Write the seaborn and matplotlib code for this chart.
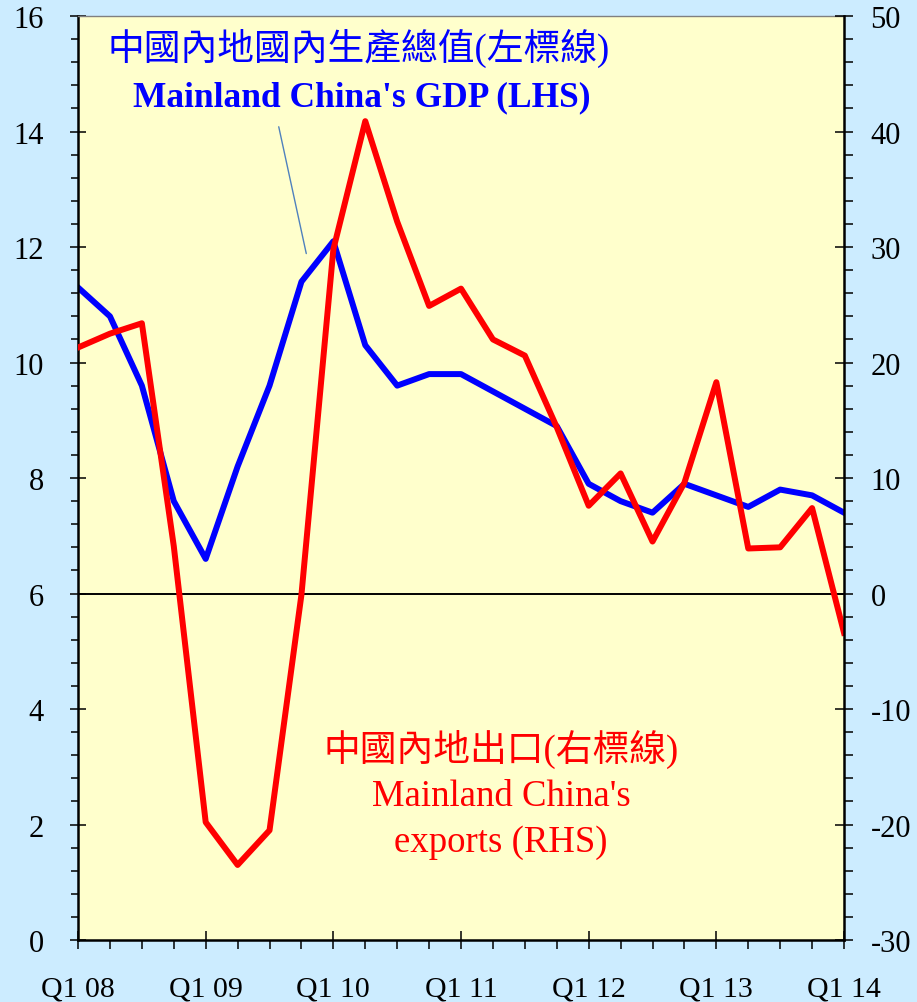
import numpy as np
import pandas as pd
import matplotlib
matplotlib.use("Agg")
import matplotlib.pyplot as plt
import seaborn as sns
from matplotlib.ticker import MultipleLocator

# quarterly data, Q1 08 .. Q1 14
quarters = ["Q1 08", "Q2 08", "Q3 08", "Q4 08",
            "Q1 09", "Q2 09", "Q3 09", "Q4 09",
            "Q1 10", "Q2 10", "Q3 10", "Q4 10",
            "Q1 11", "Q2 11", "Q3 11", "Q4 11",
            "Q1 12", "Q2 12", "Q3 12", "Q4 12",
            "Q1 13", "Q2 13", "Q3 13", "Q4 13",
            "Q1 14"]
gdp = [11.3, 10.8, 9.6, 7.6,
       6.6, 8.2, 9.6, 11.4,
       12.1, 10.3, 9.6, 9.8,
       9.8, 9.5, 9.2, 8.9,
       7.9, 7.6, 7.4, 7.9,
       7.7, 7.5, 7.8, 7.7,
       7.4]
exports = [21.3, 22.5, 23.4, 4.1,
           -19.8, -23.5, -20.5, -0.1,
           29.8, 40.9, 32.2, 24.9,
           26.4, 22.0, 20.6, 14.4,
           7.6, 10.4, 4.5, 9.6,
           18.3, 3.9, 4.0, 7.4,
           -3.4]
year_labels = ["Q1 08", "Q1 09", "Q1 10", "Q1 11", "Q1 12", "Q1 13", "Q1 14"]

df = pd.DataFrame({"q": np.arange(len(quarters)), "gdp": gdp, "exports": exports})

serif = ["Liberation Serif", "Noto Sans CJK TC"]
plt.rcParams["font.family"] = serif
plt.rcParams["axes.unicode_minus"] = False

fig = plt.figure(figsize=(9.17, 10.03), dpi=100)
fig.patch.set_facecolor("#CCECFF")
ax = fig.add_axes([0.0851, 0.0618, 0.8353, 0.9212])
ax.set_facecolor("#FFFFCC")

sns.lineplot(data=df, x="q", y="gdp", ax=ax, color="#0000FF", linewidth=4.3)
ax.set_xlim(0, 24)
ax.set_ylim(0, 16)

ax2 = ax.twinx()
sns.lineplot(data=df, x="q", y="exports", ax=ax2, color="#FF0000", linewidth=4.3)
ax2.axhline(0, color="black", linewidth=1.4, zorder=1)
ax2.set_ylim(-30, 50)
ax2.set_xlim(0, 24)

for a in (ax, ax2):
    a.set_xlabel("")
    a.set_ylabel("")
    for s in a.spines.values():
        s.set_visible(False)

ax.spines["left"].set_visible(True)
ax.spines["left"].set_linewidth(1.8)
ax.spines["bottom"].set_visible(True)
ax.spines["bottom"].set_linewidth(1.8)
ax.spines["top"].set_visible(True)
ax.spines["top"].set_color("#808080")
ax.spines["top"].set_linewidth(1.0)
ax2.spines["right"].set_visible(True)
ax2.spines["right"].set_linewidth(1.8)

# x ticks
ax.xaxis.set_minor_locator(MultipleLocator(1))
ax.set_xticks(range(0, 25, 4))
ax.set_xticklabels(year_labels)
ax.tick_params(axis="x", which="major", direction="inout", length=13, width=1.1,
               pad=19, labelsize=21.5)
ax.tick_params(axis="x", which="minor", direction="out", length=6.5, width=1.1)

# left y ticks
ax.set_yticks(range(0, 17, 2))
ax.yaxis.set_minor_locator(MultipleLocator(0.4))
ax.tick_params(axis="y", which="major", direction="inout", length=12, width=1.1,
               pad=18.5, labelsize=22)
ax.tick_params(axis="y", which="minor", direction="out", length=5, width=1.1)

# right y ticks
ax2.set_yticks(range(-30, 51, 10))
ax2.yaxis.set_minor_locator(MultipleLocator(2))
ax2.tick_params(axis="y", which="major", direction="inout", length=13, width=1.1,
                pad=12.5, labelsize=22)
ax2.tick_params(axis="y", which="minor", direction="out", length=6.5, width=1.1)

for lab in ax.get_xticklabels() + ax.get_yticklabels() + ax2.get_yticklabels():
    lab.set_family(serif)

# annotations
ax.annotate("", xy=(7.17, 11.84), xytext=(6.27, 14.13),
            arrowprops=dict(arrowstyle="-", color="#4F81BD", linewidth=1.0))
ax.text(8.8, 15.46, "中國內地國內生產總值(左標線)", color="#0000FF", fontsize=26.5,
        ha="center", va="center", family=serif)
ax.text(8.9, 14.6, "Mainland China's GDP (LHS)", color="#0000FF", fontsize=25.5,
        fontweight="bold", ha="center", va="center", family=serif)
ax.text(13.25, 3.31, "中國內地出口(右標線)", color="#FF0000", fontsize=26.5,
        ha="center", va="center", family=serif)
ax.text(13.25, 2.49, "Mainland China's", color="#FF0000", fontsize=26.5,
        ha="center", va="center", family=serif)
ax.text(13.25, 1.70, "exports (RHS)", color="#FF0000", fontsize=26.5,
        ha="center", va="center", family=serif)

fig.savefig("out.png", dpi=100, facecolor=fig.get_facecolor())
